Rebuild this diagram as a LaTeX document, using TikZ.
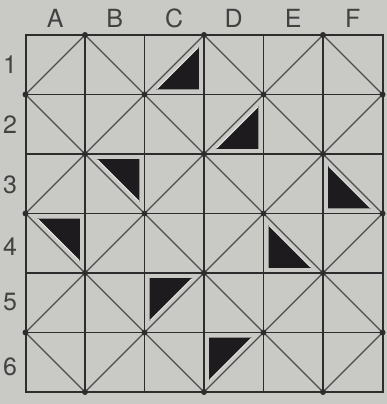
\documentclass[tikz,border=0pt]{standalone}
\usepackage{fontspec}
\setmainfont{TeX Gyre Heros}
\definecolor{paper}{RGB}{201,202,197}
\definecolor{ink}{RGB}{45,45,45}
\definecolor{blk}{RGB}{30,27,30}
\tikzset{
  gridline/.style={draw=ink, line width=1.3pt},
  frame/.style={draw=ink, line width=2pt},
  diag/.style={draw=ink!85, line width=1.1pt},
  tri/.style={fill=blk},
  hyp/.style={draw=white!55!paper, line width=1pt, shorten >=1pt, shorten <=1pt},
  dot/.style={fill=ink},
  lab/.style={font=\fontsize{25}{25}\selectfont, text=ink!90, inner sep=0pt}
}
\newcommand\mytri[4]{\fill[tri] (#1,#2) -- ++(#3,0) -- ++(-#3,#4) -- cycle;
  \draw[hyp] ($(#1,#2)+(#3,0)$) -- ($(#1,#2)+(0,#4)$);}
\usetikzlibrary{calc}
\begin{document}
\begin{tikzpicture}[x=59.5pt,y=-59.5pt]
\fill[paper] (-0.4286,-0.5882) rectangle (6.0756,6.2017);
\useasboundingbox (-0.4286,-0.5882) rectangle (6.0756,6.2017);
% grid
\foreach \i in {1,...,5} {
  \draw[gridline] (\i,0) -- (\i,6);
  \draw[gridline] (0,\i) -- (6,\i);
}
% diagonals
\draw[diag] (1,0) -- (0,1);
\draw[diag] (3,0) -- (0,3);
\draw[diag] (5,0) -- (0,5);
\draw[diag] (6,1) -- (1,6);
\draw[diag] (6,3) -- (3,6);
\draw[diag] (6,5) -- (5,6);
\draw[diag] (0,5) -- (1,6);
\draw[diag] (0,3) -- (3,6);
\draw[diag] (0,1) -- (5,6);
\draw[diag] (1,0) -- (6,5);
\draw[diag] (3,0) -- (6,3);
\draw[diag] (5,0) -- (6,1);
\draw[frame] (0,0) rectangle (6,6);
% triangles
\mytri{2.915}{0.915}{-0.72}{-0.72}
\mytri{3.915}{1.915}{-0.72}{-0.72}
\mytri{1.915}{2.085}{-0.72}{0.72}
\mytri{5.085}{2.915}{0.72}{-0.72}
\mytri{0.915}{3.085}{-0.72}{0.72}
\mytri{4.085}{3.915}{0.72}{-0.72}
\mytri{2.085}{4.085}{0.72}{0.72}
\mytri{3.085}{5.085}{0.72}{0.72}
% dots
\foreach \x in {0,...,6} {
  \foreach \y in {0,...,6} {
    \pgfmathtruncatemacro\s{mod(\x+\y,2)}
    \ifnum\s=1 \fill[dot] (\x,\y) circle (3pt); \fi
  }
}
% labels
\node[lab] (cA) at (0.5,-0.2857) {A};
\node[lab] (cB) at (1.5,-0.2857) {B};
\node[lab] (cC) at (2.5,-0.2857) {C};
\node[lab] (cD) at (3.5,-0.2857) {D};
\node[lab] (cE) at (4.5,-0.2857) {E};
\node[lab] (cF) at (5.5,-0.2857) {F};
\node[lab] (r1) at (-0.26,0.504) {1};
\node[lab] (r2) at (-0.26,1.51) {2};
\node[lab] (r3) at (-0.26,2.52) {3};
\node[lab] (r4) at (-0.26,3.56) {4};
\node[lab] (r5) at (-0.26,4.49) {5};
\node[lab] (r6) at (-0.26,5.58) {6};
\end{tikzpicture}
\end{document}
